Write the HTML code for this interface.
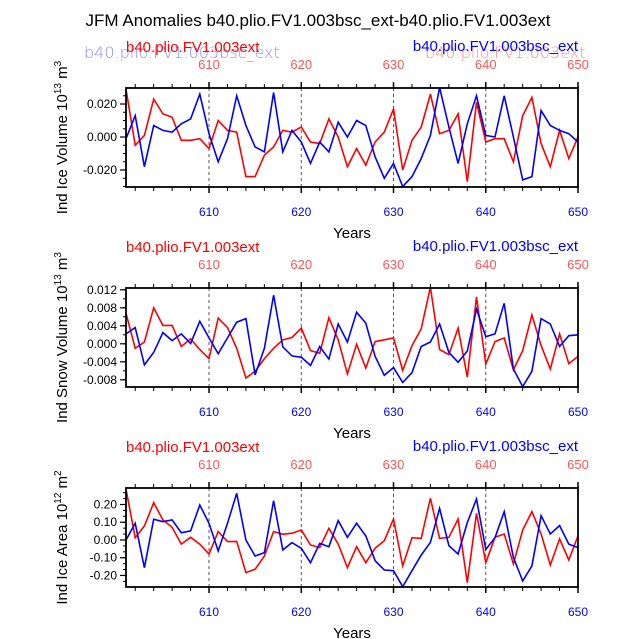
<!DOCTYPE html>
<html><head><meta charset="utf-8"><style>
html,body{margin:0;padding:0;background:#fff}
svg{display:block;font-family:"Liberation Sans",sans-serif}
</style></head><body>
<svg id="c" width="638" height="639" viewBox="0 0 638 639">
<text x="318" y="26" text-anchor="middle" font-size="17">JFM Anomalies b40.plio.FV1.003bsc_ext-b40.plio.FV1.003ext</text>
<text x="84" y="58" font-size="16" fill="#7070ff" opacity="0.8" style="font-family:'DejaVu Sans',sans-serif;font-weight:300">b40.plio.FV1.003bsc_ext</text>
<text x="425" y="58" font-size="16" fill="#ff7070" opacity="0.8" style="font-family:'DejaVu Sans',sans-serif;font-weight:300">b40.plio.FV1.003ext</text>
</svg>
<script>
const years = [];for(let y=601;y<=650;y++)years.push(y);
const iceVolRed=[0.029,-0.005,0.001,0.023,0.014,0.012,-0.002,-0.002,-0.001,-0.007,0.010,0.004,0.003,-0.024,-0.024,-0.011,-0.006,0.004,0.003,0.006,-0.003,-0.004,0.011,0.000,-0.018,-0.007,-0.017,-0.003,0.003,0.017,-0.020,-0.002,0.006,0.026,0.002,0.004,0.014,-0.027,0.021,-0.003,-0.001,-0.001,-0.015,0.013,0.024,-0.004,-0.018,0.004,-0.013,0.000];
const iceVolBlue=[-0.001,0.013,-0.018,0.007,0.004,0.003,0.008,0.011,0.026,0.002,-0.015,-0.001,0.025,0.007,-0.006,-0.009,0.027,-0.009,0.004,-0.003,-0.016,-0.003,-0.009,0.009,0.000,0.010,0.007,-0.012,-0.025,-0.016,-0.030,-0.024,-0.013,0.001,0.030,0.006,-0.016,0.008,0.025,0.001,0.000,0.025,0.000,-0.026,-0.024,0.016,0.007,0.004,0.002,-0.003];
const snowRed=[0.0068,-0.0010,0.0004,0.0080,0.0041,0.0041,-0.0006,0.0011,-0.0013,-0.0033,0.0057,0.0036,-0.0010,-0.0076,-0.0061,-0.0033,-0.0010,0.0009,0.0014,0.0035,-0.0015,-0.0021,0.0058,0.0009,-0.0067,-0.0001,-0.0054,0.0005,0.0009,0.0013,-0.0059,-0.0004,0.0033,0.0126,-0.0013,-0.0024,0.0035,-0.0074,0.0104,-0.0045,0.0005,0.0013,-0.0058,-0.0015,0.0064,-0.0004,-0.0056,0.0022,-0.0044,-0.0028];
const snowBlue=[0.0022,0.0036,-0.0047,-0.0019,0.0025,0.0007,0.0022,0.0001,0.0050,0.0013,-0.0022,0.0013,0.0048,0.0056,-0.0069,-0.0010,0.0108,-0.0007,-0.0027,-0.0030,-0.0048,-0.0006,-0.0034,0.0044,0.0004,0.0070,0.0046,-0.0028,-0.0070,-0.0053,-0.0086,-0.0064,-0.0006,0.0004,0.0044,-0.0019,-0.0041,-0.0016,0.0077,0.0016,0.0022,0.0090,-0.0056,-0.0095,-0.0061,0.0056,0.0044,-0.0006,0.0018,0.0020];
const areaRed=[0.286,0.013,0.079,0.210,0.113,0.071,-0.023,0.015,-0.024,-0.079,0.047,-0.009,-0.008,-0.184,-0.165,-0.090,0.047,0.032,0.038,0.056,-0.028,-0.043,0.066,-0.023,-0.156,-0.038,-0.128,-0.047,-0.004,0.118,-0.146,0.013,0.009,0.235,0.009,0.015,0.118,-0.240,0.150,-0.128,0.015,0.034,-0.135,0.056,0.160,0.034,-0.141,0.006,-0.113,0.023];
const areaBlue=[0.000,0.094,-0.156,0.117,0.103,0.113,0.041,0.051,0.197,0.094,-0.062,0.094,0.263,0.000,-0.090,-0.071,0.221,-0.056,-0.015,-0.047,-0.128,-0.019,-0.038,0.109,0.015,0.094,0.023,-0.117,-0.169,-0.173,-0.263,-0.173,-0.085,-0.013,0.178,-0.032,-0.079,0.098,0.231,-0.053,0.013,0.160,-0.098,-0.231,-0.146,0.137,0.034,0.081,-0.023,-0.043];
const xTickLabels=[610,620,630,640,650];
const iceVolTicks=["0.020","0.000","-0.020"];
const snowTicks=["0.012","0.008","0.004","0.000","-0.004","-0.008"];
const areaTicks=["0.20","0.10","0.00","-0.10","-0.20"];

const svg=document.getElementById('c');const NS='http://www.w3.org/2000/svg';
function mk(t,a,parent){const e=document.createElementNS(NS,t);for(const k in a)e.setAttribute(k,a[k]);(parent||svg).appendChild(e);return e;}
const X0=126,X1=578;
const xs=y=>X0+(y-601)/(650-601)*(X1-X0);
const panels=[
 {top:88,ymin:-0.0303,ymax:0.0297,red:iceVolRed,blue:iceVolBlue,ticks:iceVolTicks,minor:0.005,title:"Ind Ice Volume 10",sup:"13",unit:" m",usup:"3",name:"ice-volume"},
 {top:288,ymin:-0.0096,ymax:0.0124,red:snowRed,blue:snowBlue,ticks:snowTicks,minor:0.002,title:"Ind Snow Volume 10",sup:"13",unit:" m",usup:"3",name:"snow-volume"},
 {top:488,ymin:-0.265,ymax:0.293,red:areaRed,blue:areaBlue,ticks:areaTicks,minor:0.1/3,title:"Ind Ice Area 10",sup:"12",unit:" m",usup:"2",name:"ice-area"}
];
panels.forEach((p,pi)=>{
 const T=p.top,B=T+99;
 const ys=v=>B-(v-p.ymin)/(p.ymax-p.ymin)*(B-T);
 const g=mk('g',{});
 
 
 let t=mk('text',{x:126,y:T-36,'font-size':15,fill:'#f00'},g);t.textContent='b40.plio.FV1.003ext';
 
 t=mk('text',{x:578,y:T-37,'font-size':15,fill:'#00f','text-anchor':'end'},g);t.textContent='b40.plio.FV1.003bsc_ext';
 
 [610,620,630,640].forEach(yr=>{const l=mk('line',{x1:xs(yr),x2:xs(yr),y1:T,y2:B,stroke:'#555','stroke-width':1,'stroke-dasharray':'3,3'},g);
  });
 for(let yr=602;yr<=650;yr+=2){const maj=yr%10===0;const len=maj?6:4;
  mk('line',{x1:xs(yr),x2:xs(yr),y1:T,y2:T-len,stroke:'#000','stroke-width':maj?1.5:1},g);
  mk('line',{x1:xs(yr),x2:xs(yr),y1:B,y2:B+len,stroke:'#000','stroke-width':maj?1.5:1},g);}
 xTickLabels.forEach(v=>{let a=mk('text',{x:xs(v),y:T-19,'font-size':13,fill:'#f55','text-anchor':'middle'},g);a.textContent=v;
  
  let b=mk('text',{x:xs(v),y:B+29,'font-size':12,fill:'#00f','text-anchor':'middle'},g);b.textContent=v;
  });
 t=mk('text',{x:352,y:B+51,'font-size':15,'text-anchor':'middle'},g);t.textContent='Years';
 
 const n0=Math.ceil(p.ymin/p.minor-1e-6),n1=Math.floor(p.ymax/p.minor+1e-6);
 for(let n=n0;n<=n1;n++){mk('line',{x1:X0,x2:X0-3,y1:ys(n*p.minor),y2:ys(n*p.minor),stroke:'#000','stroke-width':1},g);}
 p.ticks.forEach(s=>{const v=parseFloat(s);mk('line',{x1:X0,x2:X0-6,y1:ys(v),y2:ys(v),stroke:'#000','stroke-width':1.2},g);
  const a=mk('text',{x:X0-9,y:ys(v)+4,'font-size':12,'text-anchor':'end'},g);a.textContent=s;
  });
 const yt=mk('text',{transform:`translate(67,${(T+B)/2}) rotate(-90)`,'font-size':15,'text-anchor':'middle'},g);
 
 yt.appendChild(document.createTextNode(p.title));
 let s1=mk('tspan',{'font-size':10,dy:-6},yt);s1.textContent=p.sup;
 let s2=mk('tspan',{dy:6},yt);s2.textContent=p.unit;
 let s3=mk('tspan',{'font-size':10,dy:-6},yt);s3.textContent=p.usup;
 [['red',p.red,'#f00'],['blue',p.blue,'#00f']].forEach(([nm,arr,col])=>{
  const d=arr.map((v,i)=>(i?'L':'M')+xs(years[i]).toFixed(1)+','+ys(v).toFixed(1)).join('');
  const pl=mk('path',{d:d,fill:'none',stroke:col,'stroke-width':1.6,'stroke-linejoin':'miter'},g);
  });
 const fr=mk('rect',{x:X0,y:T,width:X1-X0,height:B-T,fill:'none',stroke:'#000','stroke-width':1.8},g);
 
});
</script>
</body></html>
